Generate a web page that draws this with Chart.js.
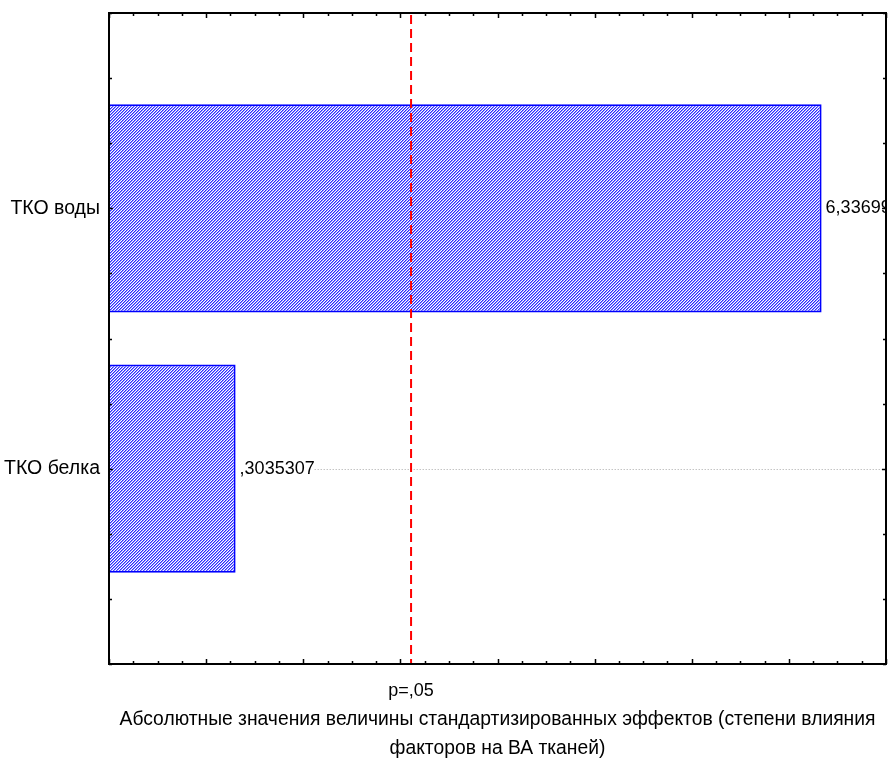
<!DOCTYPE html>
<html>
<head>
<meta charset="utf-8">
<script src="https://cdn.jsdelivr.net/npm/chart.js@4.4.1/dist/chart.umd.min.js"></script>
<style>
  html, body { margin: 0; padding: 0; background: #fff; }
</style>
</head>
<body>
<canvas id="chart" width="889" height="774"></canvas>
<script>
// Pareto chart of standardized effects (Statistica style)
const categories = ["ТКО воды", "ТКО белка"];
const effects = [6.33699, 0.3035307];
const pCritical = 2.11;
const pLabel = "p=,05";
const xMin = -1;
const xMax = 7;
const axisTitle = [
  "Абсолютные значения величины стандартизированных эффектов (степени влияния",
  "факторов на ВА тканей)"
];

const FONT = "'Liberation Sans', Arial, sans-serif";
Chart.defaults.font.family = FONT;
Chart.defaults.font.size = 18;
Chart.defaults.color = "#000";

// statistica writes ,3035307 instead of 0.3035307
const fmt = (v) => String(v).replace(/^0\./, ",").replace(".", ",");

const canvas = document.getElementById("chart");
const ctx = canvas.getContext("2d");

function hatchPattern() {
  const t = document.createElement("canvas");
  t.width = 3;
  t.height = 3;
  const g = t.getContext("2d");
  g.fillStyle = "#fff";
  g.fillRect(0, 0, 3, 3);
  for (let i = 0; i < 3; i++) {
    g.fillStyle = "#2a2aff";
    g.fillRect(2 - i, i, 1, 1);
    g.fillStyle = "#9090ff";
    g.fillRect((3 - i) % 3, i, 1, 1);
  }
  return ctx.createPattern(t, "repeat");
}

const statFrame = {
  id: "statFrame",
  afterDatasetsDraw(chart) {
    const { ctx, chartArea: a, scales: { x, y } } = chart;
    ctx.save();

    // value labels + dotted guide line, clipped to plot area
    ctx.beginPath();
    ctx.rect(a.left, a.top, a.right - a.left, a.bottom - a.top);
    ctx.clip();
    ctx.font = "18px " + FONT;
    ctx.textBaseline = "middle";
    ctx.textAlign = "left";
    effects.forEach((v, i) => {
      const px = x.getPixelForValue(v) + 4;
      const py = y.getPixelForValue(i + 1);
      const txt = fmt(v);
      const w = ctx.measureText(txt).width;
      ctx.strokeStyle = "#a8a8a8";
      ctx.lineWidth = 1;
      ctx.setLineDash([1, 2]);
      ctx.beginPath();
      ctx.moveTo(px + w, Math.round(py) + 0.5);
      ctx.lineTo(a.right, Math.round(py) + 0.5);
      ctx.stroke();
      ctx.fillStyle = "#000";
      ctx.fillText(txt, px, py);
    });
    ctx.restore();

    ctx.save();
    // critical value line
    const xr = x.getPixelForValue(pCritical);
    ctx.strokeStyle = "#ff0000";
    ctx.lineWidth = 2;
    ctx.setLineDash([9, 5]);
    ctx.beginPath();
    ctx.moveTo(xr, a.top + 2);
    ctx.lineTo(xr, a.bottom);
    ctx.stroke();
    ctx.setLineDash([]);

    // frame
    ctx.strokeStyle = "#000";
    ctx.lineWidth = 2;
    ctx.strokeRect(a.left, a.top, a.right - a.left, a.bottom - a.top);

    // inward ticks on all four sides
    ctx.lineWidth = 1.5;
    ctx.beginPath();
    for (let v = xMin; v <= xMax + 1e-9; v += 0.25) {
      const px = Math.round(x.getPixelForValue(v)) + 0.5;
      const len = Math.abs(v - Math.round(v)) < 1e-9 ? 5 : 3;
      ctx.moveTo(px, a.bottom);
      ctx.lineTo(px, a.bottom - len);
      ctx.moveTo(px, a.top);
      ctx.lineTo(px, a.top + len);
    }
    for (let v = y.min; v <= y.max + 1e-9; v += 0.25) {
      const py = Math.round(y.getPixelForValue(v)) + 0.5;
      const len = Math.abs(v - Math.round(v)) < 1e-9 ? 4 : 3;
      ctx.moveTo(a.left, py);
      ctx.lineTo(a.left + len, py);
      ctx.moveTo(a.right, py);
      ctx.lineTo(a.right - len, py);
    }
    ctx.stroke();

    // p level label under the red line
    ctx.fillStyle = "#000";
    ctx.font = "18px " + FONT;
    ctx.textAlign = "center";
    ctx.textBaseline = "middle";
    ctx.fillText(pLabel, xr, a.bottom + 27);
    ctx.restore();
  }
};

new Chart(ctx, {
  type: "bar",
  data: {
    datasets: [
      {
        data: effects.map((v, i) => ({ x: v, y: i + 1 })),
        base: xMin,
        backgroundColor: hatchPattern(),
        borderColor: "#0000ff",
        borderWidth: 2,
        categoryPercentage: 0.8,
        barPercentage: 1.0,
      },
    ],
  },
  options: {
    responsive: false,
    animation: false,
    indexAxis: "y",
    layout: { padding: { top: 13, right: 3, left: 0, bottom: 0 } },
    plugins: {
      legend: { display: false },
      tooltip: { enabled: false },
    },
    scales: {
      x: {
        type: "linear",
        min: xMin,
        max: xMax,
        grid: { display: false },
        border: { display: false },
        ticks: { display: false },
        title: {
          display: true,
          text: axisTitle,
          color: "#000",
          font: { size: 19.3, lineHeight: "29px" },
          padding: { top: 0, bottom: 11 },
        },
        afterFit(scale) {
          scale.height = 110;
        },
      },
      y: {
        type: "linear",
        min: 0.25,
        max: categories.length + 0.75,
        reverse: true,
        offset: false,
        grid: { display: false },
        border: { display: false },
        afterBuildTicks(scale) {
          scale.ticks = categories.map((c, i) => ({ value: i + 1 }));
        },
        ticks: {
          callback: (v) => categories[v - 1] || "",
          color: "#000",
          font: { size: 19.5 },
          padding: 1,
        },
        afterFit(scale) {
          scale.width = 109;
        },
      },
    },
  },
  plugins: [statFrame],
});
</script>
</body>
</html>
